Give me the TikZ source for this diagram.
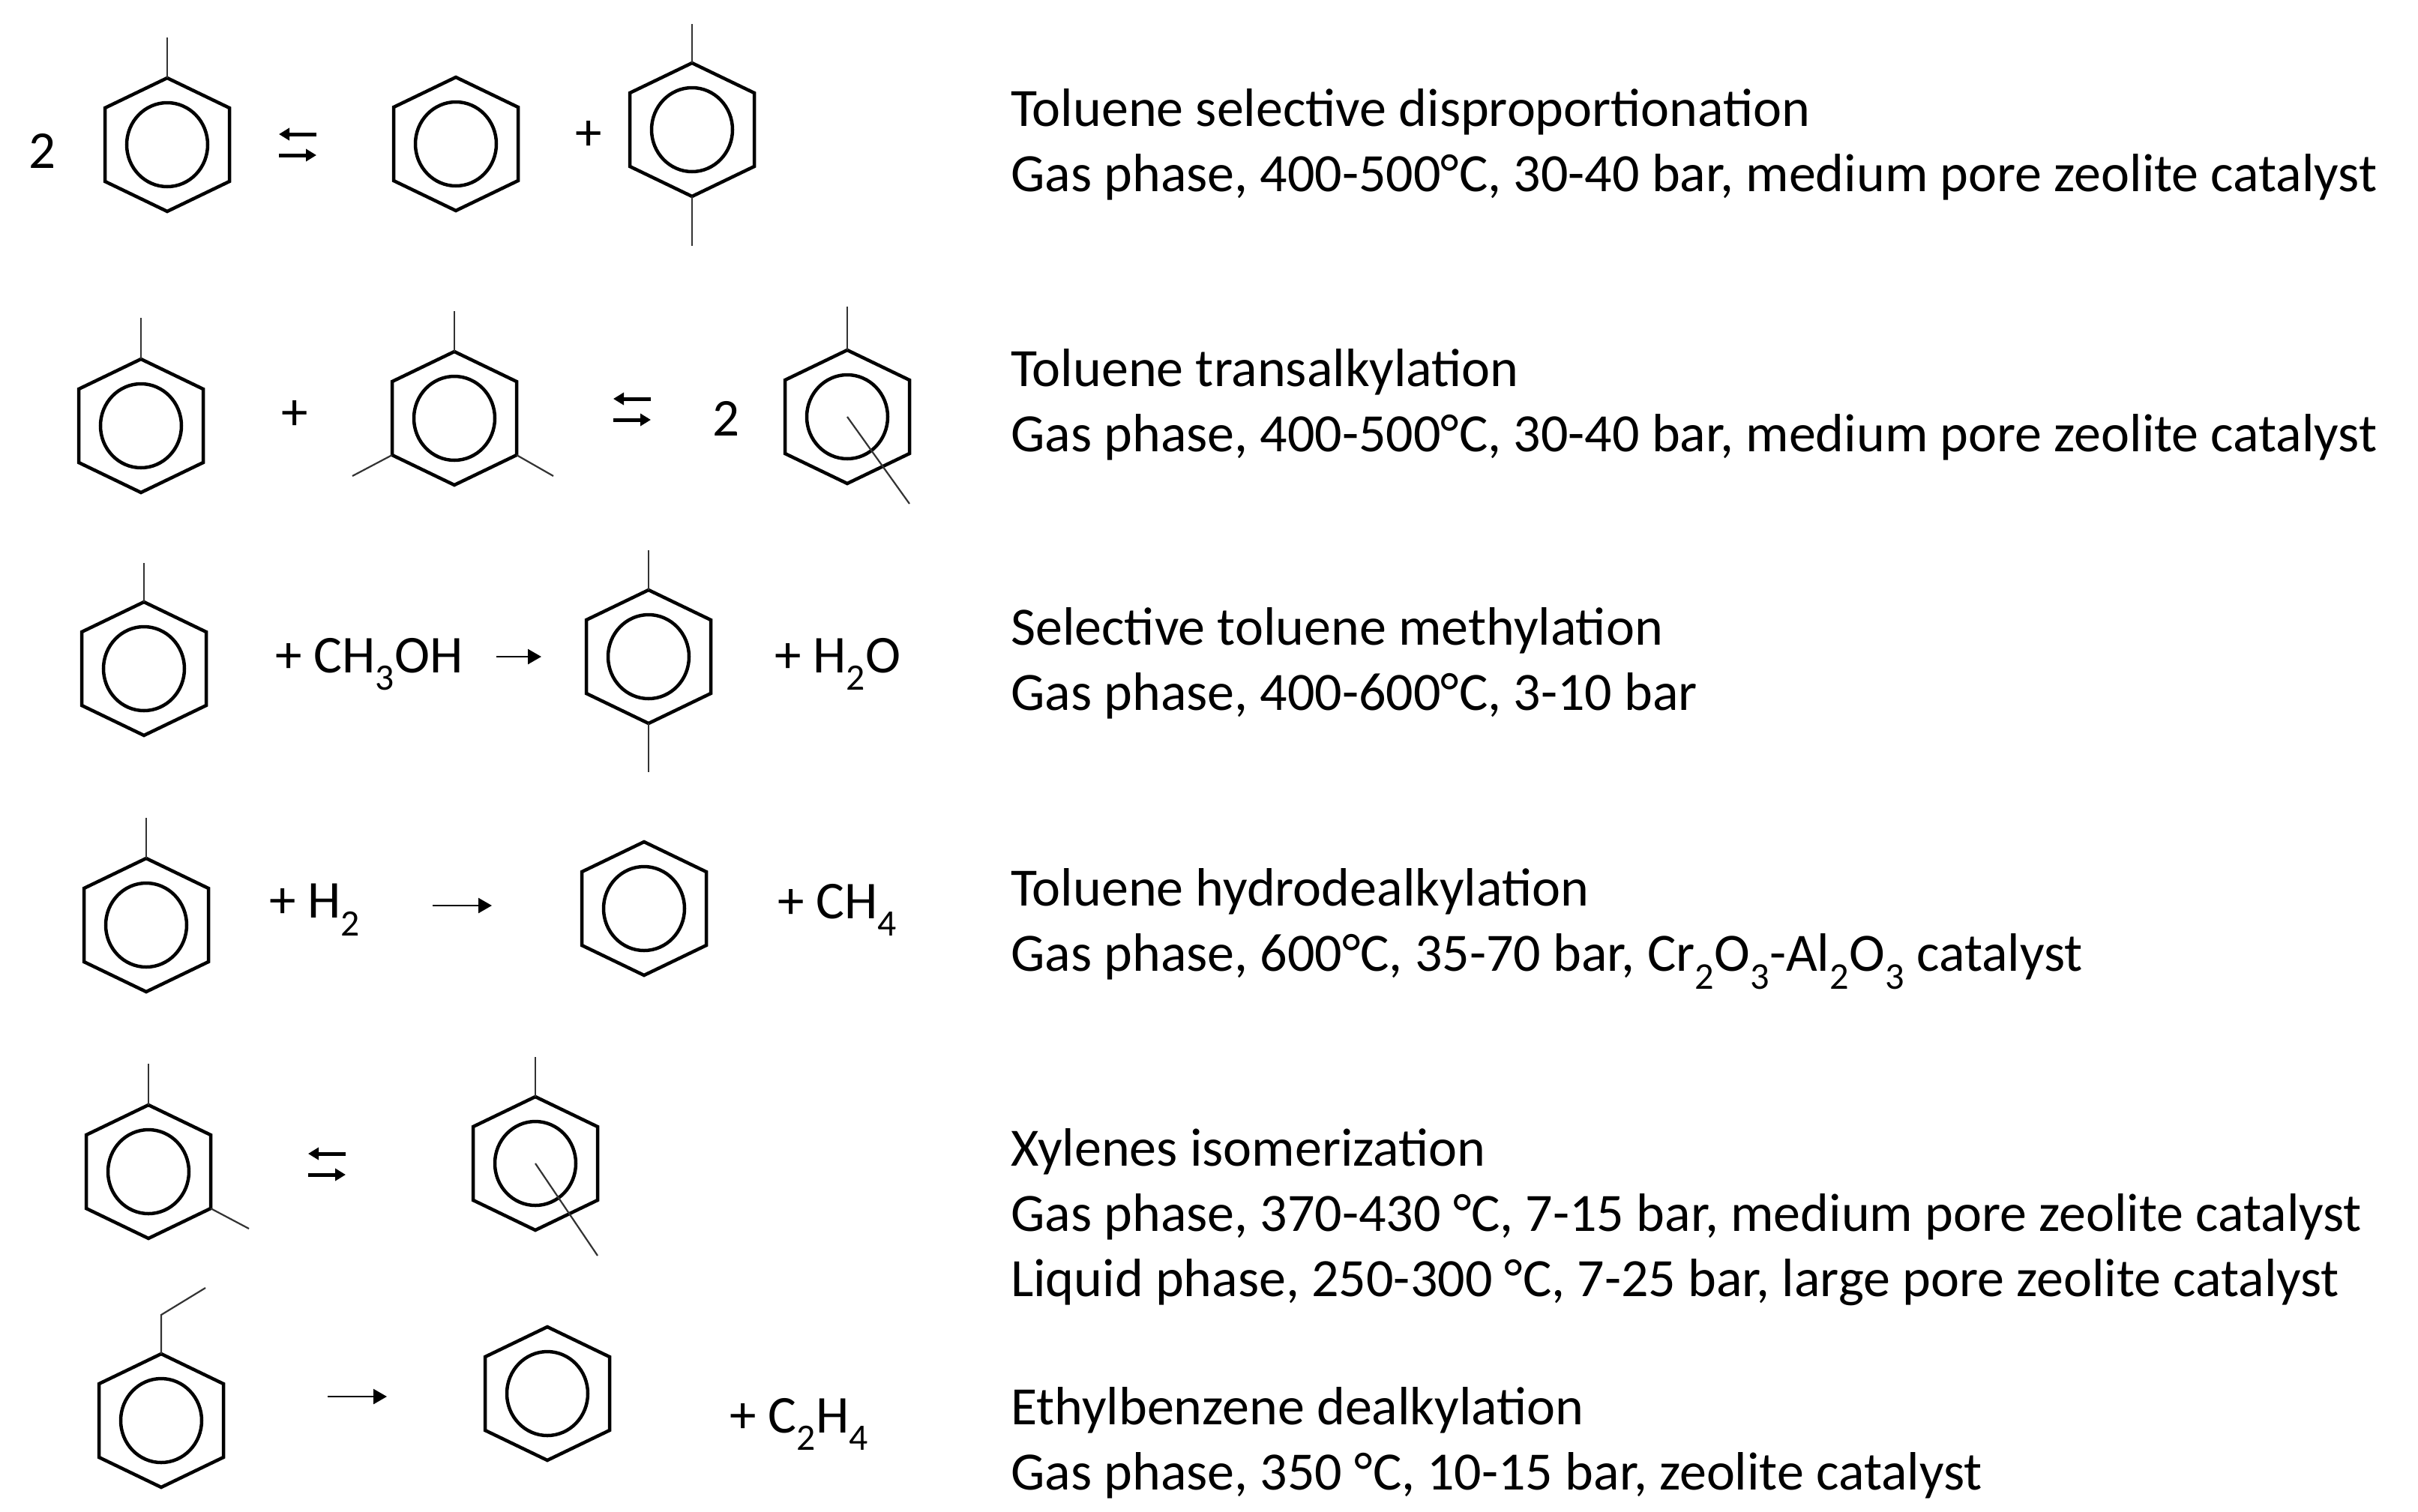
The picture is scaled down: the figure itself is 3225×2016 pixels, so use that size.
\documentclass[tikz,border=0pt]{standalone}
\usepackage{fontspec}
\setmainfont{Carlito}
\usetikzlibrary{arrows.meta}
\tikzset{
  ringst/.style={line width=4.5pt, line join=miter},
  subst/.style={line width=2.2pt, black!80},
  eqarr/.style={line width=5pt, -{Triangle[length=14pt,width=16pt]}},
  rxarr/.style={line width=2.6pt, -{Triangle[length=18pt,width=20pt]}},
  lab/.style={font=\fontsize{71}{87}\selectfont, inner sep=0pt},
  desc/.style={font=\fontsize{72}{87}\selectfont, inner sep=0pt, anchor=north west, align=left}
}
\newcommand\benz[3]{%
  \coordinate (#1) at (#2,#3);
  \coordinate (#1-t) at (#2,#3-89);
  \coordinate (#1-b) at (#2,#3+89);
  \coordinate (#1-ur) at (#2+83,#3-49);
  \coordinate (#1-lr) at (#2+83,#3+49);
  \coordinate (#1-ll) at (#2-83,#3+49);
  \coordinate (#1-ul) at (#2-83,#3-49);
  \draw[ringst] (#1-t) -- (#1-ur) -- (#1-lr) -- (#1-b) -- (#1-ll) -- (#1-ul) -- cycle;
  \draw[ringst] (#1) ellipse (54 and 56);
}
\newcommand\eqarrows[3]{%
  \coordinate (#1-a) at (#2,#3-14);
  \coordinate (#1-b) at (#2+50,#3-14);
  \coordinate (#1-c) at (#2,#3+14);
  \coordinate (#1-d) at (#2+50,#3+14);
  \draw[eqarr] (#1-b) -- (#1-a);
  \draw[eqarr] (#1-c) -- (#1-d);
}
\begin{document}
\begin{tikzpicture}[x=1pt,y=-1pt]
\useasboundingbox (0,0) rectangle (3225,2016);
% Row 1
\node[lab] (two1) at (56,201) {2};
\benz{A}{223}{193}
\coordinate (A-m) at (223,50);
\draw[subst] (A-t) -- (A-m);
\eqarrows{E1}{372}{193}
\benz{B}{608}{192}
\node[lab] (p1) at (785,181) {+};
\benz{C}{923}{173}
\coordinate (C-m) at (923,32);
\coordinate (C-n) at (923,328);
\draw[subst] (C-t) -- (C-m);
\draw[subst] (C-b) -- (C-n);
% Row 2
\benz{D}{188}{568}
\coordinate (D-m) at (188,424);
\draw[subst] (D-t) -- (D-m);
\node[lab] (p2) at (393,554) {+};
\benz{E}{606}{558}
\coordinate (E-m) at (606,415);
\coordinate (E-l) at (470,635);
\coordinate (E-r) at (738,635);
\draw[subst] (E-t) -- (E-m);
\draw[subst] (E-ll) -- (E-l);
\draw[subst] (E-lr) -- (E-r);
\eqarrows{E2}{818}{546}
\node[lab] (two2) at (968,558) {2};
\benz{F}{1130}{556}
\coordinate (F-m) at (1130,409);
\coordinate (F-d) at (1213,672);
\draw[subst] (F-t) -- (F-m);
\draw[subst] (F) -- (F-d);
% Row 3
\benz{K}{192}{892}
\coordinate (K-m) at (192,751);
\draw[subst] (K-t) -- (K-m);
\node[lab, anchor=west] (meoh) at (367,886) {+ CH\textsubscript{3}OH};
\coordinate (r3a) at (662,876);
\coordinate (r3b) at (722,876);
\draw[rxarr] (r3a) -- (r3b);
\benz{L}{865}{876}
\coordinate (L-m) at (865,734);
\coordinate (L-n) at (865,1030);
\draw[subst] (L-t) -- (L-m);
\draw[subst] (L-b) -- (L-n);
\node[lab, anchor=west] (h2o) at (1033,886) {+ H\textsubscript{2}O};
% Row 4
\benz{M}{195}{1234}
\coordinate (M-m) at (195,1091);
\draw[subst] (M-t) -- (M-m);
\node[lab, anchor=west] (h2) at (359,1214) {+ H\textsubscript{2}};
\coordinate (r4a) at (577,1208);
\coordinate (r4b) at (656,1208);
\draw[rxarr] (r4a) -- (r4b);
\benz{N}{859}{1212}
\node[lab, anchor=west] (ch4) at (1037,1214) {+ CH\textsubscript{4}};
% Row 5
\benz{G}{198}{1563}
\coordinate (G-m) at (198,1419);
\coordinate (G-s) at (332,1639);
\draw[subst] (G-t) -- (G-m);
\draw[subst] (G-lr) -- (G-s);
\eqarrows{E3}{411}{1553}
\benz{H}{714}{1552}
\coordinate (H-m) at (714,1410);
\coordinate (H-d) at (797,1675);
\draw[subst] (H-t) -- (H-m);
\draw[subst] (H) -- (H-d);
% Row 6
\benz{I}{215}{1895}
\coordinate (I-e1) at (215,1754);
\coordinate (I-e2) at (274,1718);
\draw[subst] (I-t) -- (I-e1) -- (I-e2);
\coordinate (r6a) at (437,1863);
\coordinate (r6b) at (516,1863);
\draw[rxarr] (r6a) -- (r6b);
\benz{J}{730}{1859}
\node[lab, anchor=west] (c2h4) at (973,1900) {+ C\textsubscript{2}H\textsubscript{4}};
% Descriptions
\node[desc] (d1) at (1348,118) {Toluene selective disproportionation\\Gas phase, 400-500°C, 30-40 bar, medium pore zeolite catalyst};
\node[desc] (d2) at (1348,465) {Toluene transalkylation\\Gas phase, 400-500°C, 30-40 bar, medium pore zeolite catalyst};
\node[desc] (d3) at (1348,810) {Selective toluene methylation\\Gas phase, 400-600°C, 3-10 bar};
\node[desc] (d4) at (1348,1158) {Toluene hydrodealkylation\\Gas phase, 600°C, 35-70 bar, Cr\textsubscript{2}O\textsubscript{3}-Al\textsubscript{2}O\textsubscript{3} catalyst};
\node[desc] (d5) at (1348,1505) {Xylenes isomerization\\Gas phase, 370-430 °C, 7-15 bar, medium pore zeolite catalyst\\Liquid phase, 250-300 °C, 7-25 bar, large pore zeolite catalyst};
\node[desc] (d6) at (1348,1850) {Ethylbenzene dealkylation\\Gas phase, 350 °C, 10-15 bar, zeolite catalyst};
\end{tikzpicture}
\end{document}
